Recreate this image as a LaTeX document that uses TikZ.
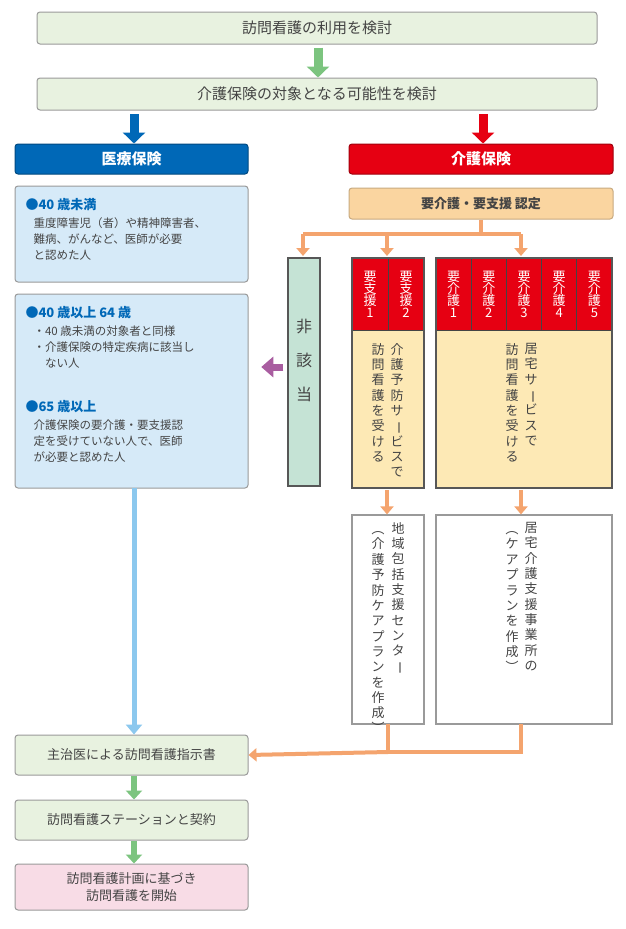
\documentclass[tikz,border=0pt]{standalone}
\usepackage{fontspec}
\setmainfont{Noto Sans CJK JP}
\usetikzlibrary{arrows.meta}
\definecolor{lgreen}{HTML}{E8F2E0}
\definecolor{agreen}{HTML}{7CC47F}
\definecolor{iblue}{HTML}{0068B7}
\definecolor{kred}{HTML}{E60012}
\definecolor{lblue}{HTML}{D6EAF8}
\definecolor{nintei}{HTML}{FAD5A0}
\definecolor{orng}{HTML}{F4A46E}
\definecolor{teal}{HTML}{C5E3D5}
\definecolor{lyel}{HTML}{FDE9B5}
\definecolor{purp}{HTML}{A95DA0}
\definecolor{sky}{HTML}{8CC8EE}
\definecolor{pink}{HTML}{F8DCE6}
\definecolor{txt}{HTML}{444444}
\definecolor{bord}{HTML}{9A9A9A}
\makeatletter
\def\vtloop#1{\ifx#1\relax\else\vtchar{#1}\expandafter\vtloop\fi}
\def\vtchar#1{\hbox to 1.1em{\hss\vtglyph{#1}\hss}}
\def\vtglyph#1{\ifx#1ー\rotatebox[origin=c]{-90}{ー}\else\ifx#1（\rotatebox[origin=c]{-90}{（}\else\ifx#1）\rotatebox[origin=c]{-90}{）}\else#1\fi\fi\fi}
\newcommand\vtx[2][1.18em]{\vtop{\baselineskip=#1\lineskiplimit=-20pt\lineskip=0pt\vtloop#2\relax}}
\makeatother
\begin{document}
\begin{tikzpicture}[x=1pt,y=-1pt,
  box/.style={draw=bord,line width=1pt,rounded corners=3pt,text=txt},
  hbox/.style={box,fill=lgreen,font=\fontsize{15}{18}\selectfont},
  bigarrow/.style={line width=9pt,-{Triangle[width=22pt,length=11pt]}},
  oline/.style={orng,line width=4pt},
  oarrow/.style={oline,-{Triangle[width=13pt,length=8pt]}},
  lefttxt/.style={font=\fontsize{11.5}{16}\selectfont,text=txt,align=left,anchor=north west},
  hdr/.style={text=iblue,font=\bfseries\fontsize{13}{16}\selectfont,anchor=north west},
  redcell/.style={fill=kred,draw=txt,line width=0.8pt,text=white,font=\fontsize{13}{15}\selectfont},
  vt/.style={text=txt,font=\fontsize{13}{15}\selectfont,inner sep=0pt,anchor=north},
  grp/.style={draw=txt!90,line width=1.5pt}]
\useasboundingbox (0,0) rectangle (626,929);
\fill[white] (0,0) rectangle (626,929);
% top boxes
\node[hbox,minimum width=560pt,minimum height=32pt] (b1) at (317,28) {訪問看護の利用を検討};
\node[hbox,minimum width=560pt,minimum height=32pt] (b2) at (317,94) {介護保険の対象となる可能性を検討};
\draw[bigarrow,agreen] (b1.south -| 318,0) ++(0,3) coordinate (g1) -- (g1 |- b2.north) ;
% insurance headers
\node[box,fill=iblue,draw=iblue!70!black,text=white,font=\bfseries\fontsize{15}{18}\selectfont,minimum width=233pt,minimum height=30pt] (iryo) at (131.5,159) {医療保険};
\node[box,fill=kred,draw=kred!70!black,text=white,font=\bfseries\fontsize{15}{18}\selectfont,minimum width=264pt,minimum height=30pt] (kaigo) at (481,159) {介護保険};
\coordinate (ba) at (134,114); \coordinate (ra) at (483,114);
\draw[bigarrow,iblue] (ba) -- (ba |- iryo.north);
\draw[bigarrow,kred] (ra) -- (ra |- kaigo.north);
% left boxes
\node[box,fill=lblue,minimum width=233pt,minimum height=96pt] (la) at (131.5,234) {};
\node[hdr] (lah) at (22,195) {●40 歳未満};
\node[lefttxt] (lat) at (30,214) {重度障害児（者）や精神障害者、\\難病、がんなど、医師が必要\\と認めた人};
\node[box,fill=lblue,minimum width=233pt,minimum height=194pt] (lb) at (131.5,391) {};
\node[hdr] (lbh) at (22,303) {●40 歳以上 64 歳};
\node[lefttxt] (lbt) at (30,322) {・40 歳未満の対象者と同様\\・介護保険の特定疾病に該当し\\\hspace*{1em}ない人};
\node[hdr] (lch) at (22,397) {●65 歳以上};
\node[lefttxt] (lct) at (30,416) {介護保険の要介護・要支援認\\定を受けていない人で、医師\\が必要と認めた人};
% nintei
\node[box,fill=nintei,draw=nintei!80!black,font=\bfseries\fontsize{13}{16}\selectfont,minimum width=264pt,minimum height=31pt] (nin) at (481,203.5) {要介護・要支援 認定};
\coordinate (j) at (481,234);
\coordinate (t1) at (303,256); \coordinate (t2) at (387,256); \coordinate (t3) at (521,256);
\draw[oline] (nin.south) -- (j);
\draw[oline] (t1 |- j) -- (t3 |- j);
\draw[oarrow] (t1 |- j) -- (t1);
\draw[oarrow] (t2 |- j) -- (t2);
\draw[oarrow] (t3 |- j) -- (t3);
% higaito
\node[grp,fill=teal,minimum width=32pt,minimum height=228pt,inner sep=0pt] (hi) at (304,372) {};
\node[text=txt,font=\fontsize{16}{34}\selectfont,align=center] (hit) at (304,360) {非\\該\\当};
\draw[purp,line width=7pt,-{Triangle[width=20pt,length=12pt]}] (hi.west) ++(-4,-5) coordinate (pa) -- ++(-22,0) coordinate (pb);
% shien group
\fill[lyel] (352,330) rectangle (424,488);
\foreach \i/\n in {0/1,1/2}{
  \node[redcell,minimum width=36pt,minimum height=72pt,inner sep=0pt] (s\n) at (370+36*\i,294) {\raisebox{0pt}{\parbox{1em}{\centering 要\\[-3pt]支\\[-3pt]援\\[-3pt]\n}}};
}
\draw[grp] (352,258) rectangle (424,488);
\node[vt] (sv1) at (397,343) {\vtx{介護予防サービスで}};
\node[vt] (sv2) at (378,343) {\vtx{訪問看護を受ける}};
% kaigo group
\fill[lyel] (436,330) rectangle (612,488);
\foreach \i/\n in {0/1,1/2,2/3,3/4,4/5}{
  \node[redcell,minimum width=35.2pt,minimum height=72pt,inner sep=0pt] (k\n) at (453.6+35.2*\i,294) {\parbox{1em}{\centering 要\\[-3pt]介\\[-3pt]護\\[-3pt]\n}};
}
\draw[grp] (436,258) rectangle (612,488);
\node[vt] (kv1) at (531,343) {\vtx{居宅サービスで}};
\node[vt] (kv2) at (512,343) {\vtx{訪問看護を受ける}};
% plan boxes
\node[draw=bord,line width=1.2pt,fill=white,minimum width=72pt,minimum height=209pt,inner sep=0pt] (pa1) at (388,619.5) {};
\node[draw=bord,line width=1.2pt,fill=white,minimum width=176pt,minimum height=209pt,inner sep=0pt] (pa2) at (524,619.5) {};
\draw[oarrow] (387,490) coordinate (d1) -- (d1 |- pa1.north);
\draw[oarrow] (521,490) coordinate (d2) -- (d2 |- pa2.north);
\node[vt] (pv1) at (398,522) {\vtx{地域包括支援センター}};
\node[vt] (pv2) at (378,522) {\vtx{（介護予防ケアプランを作成）}};
\node[vt] (pv3) at (531,522) {\vtx{居宅介護支援事業所の}};
\node[vt] (pv4) at (512,522) {\vtx{（ケアプランを作成）}};
% bottom boxes
\node[hbox,minimum width=233pt,minimum height=40pt,font=\fontsize{13}{16}\selectfont] (c1) at (131.5,755) {主治医による訪問看護指示書};
\node[hbox,minimum width=233pt,minimum height=40pt,font=\fontsize{13}{16}\selectfont] (c2) at (131.5,820) {訪問看護ステーションと契約};
\node[box,fill=pink,minimum width=233pt,minimum height=46pt,align=center,font=\fontsize{13}{17}\selectfont] (c3) at (131.5,887) {訪問看護計画に基づき\\訪問看護を開始};
\coordinate (m) at (387,752);
\draw[oline] (388,724) -- (388,752) -- (521,752) -- (521,724);
\draw[oarrow] (388,752) -- (c1.east);
\draw[sky,line width=5pt,-{Triangle[width=16pt,length=10pt]}] (134,488) coordinate (s0) -- (s0 |- c1.north);
\draw[agreen,line width=6pt,-{Triangle[width=16pt,length=9pt]}] (134,776) coordinate (g2) -- (g2 |- c2.north);
\draw[agreen,line width=6pt,-{Triangle[width=16pt,length=9pt]}] (134,841) coordinate (g3) -- (g3 |- c3.north);
\end{tikzpicture}
\end{document}
